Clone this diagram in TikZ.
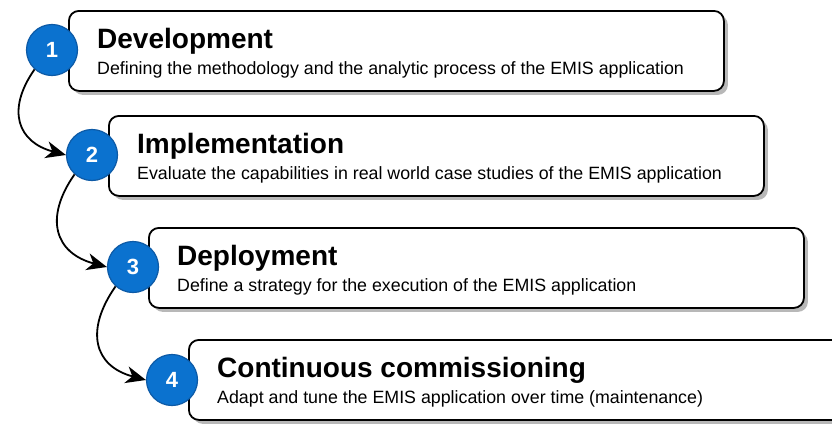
\documentclass[tikz,border=0pt]{standalone}
\usepackage{fontspec}
\setmainfont{Liberation Sans}
\usetikzlibrary{arrows.meta,shadows}

\definecolor{stepblue}{HTML}{0B72CF}
\definecolor{stepedge}{HTML}{0D5AA6}

\begin{document}
\begin{tikzpicture}[x=1pt, y=-1pt,
    phasebox/.style={draw=black, line width=1.8pt, rounded corners=10pt, fill=white,
        minimum width=655pt, minimum height=80pt, anchor=north west, inner sep=0pt,
        drop shadow={shadow xshift=4pt, shadow yshift=-4pt, fill=black!28, opacity=1}},
    phasetitle/.style={anchor=base west, inner sep=0pt, xshift=29pt, yshift=-38pt,
        font=\fontsize{28}{32}\selectfont\bfseries},
    phasetext/.style={anchor=base west, inner sep=0pt, xshift=29pt, yshift=-64pt,
        font=\fontsize{17.8}{20}\selectfont},
    stepdot/.style={circle, fill=stepblue, draw=stepedge, line width=1.2pt,
        minimum size=51pt, inner sep=0pt, text=white,
        font=\fontsize{22}{24}\selectfont\bfseries},
    flow/.style={-{Stealth[length=20pt, width=17pt, inset=6pt]}, line width=1.8pt, black}]
    \useasboundingbox (0,0) rectangle (832,423);

    % Riquadri delle fasi
    \node[phasebox] (b1) at (68,10) {};
    \node[phasebox] (b2) at (108,115) {};
    \node[phasebox] (b3) at (148,227) {};
    \node[phasebox] (b4) at (188,339) {};

    % Titoli e descrizioni
    \node[phasetitle] (t1) at (b1.north west) {Development};
    \node[phasetext] (d1) at (b1.north west) {Defining the methodology and the analytic process of the EMIS application};
    \node[phasetitle] (t2) at (b2.north west) {Implementation};
    \node[phasetext] (d2) at (b2.north west) {Evaluate the capabilities in real world case studies of the EMIS application};
    \node[phasetitle] (t3) at (b3.north west) {Deployment};
    \node[phasetext] (d3) at (b3.north west) {Define a strategy for the execution of the EMIS application};
    \node[phasetitle] (t4) at (b4.north west) {Continuous commissioning};
    \node[phasetext] (d4) at (b4.north west) {Adapt and tune the EMIS application over time (maintenance)};

    % Cerchi numerati
    \node[stepdot] (c1) at (52,50) {1};
    \node[stepdot] (c2) at (92,155) {2};
    \node[stepdot] (c3) at (133,267) {3};
    \node[stepdot] (c4) at (172,380) {4};

    % Frecce tra le fasi
    \draw[flow] (c1.228) to[out=235, in=165, looseness=1.4] (c2.west);
    \draw[flow] (c2.228) to[out=235, in=165, looseness=1.4] (c3.west);
    \draw[flow] (c3.228) to[out=235, in=165, looseness=1.4] (c4.west);
\end{tikzpicture}
\end{document}
